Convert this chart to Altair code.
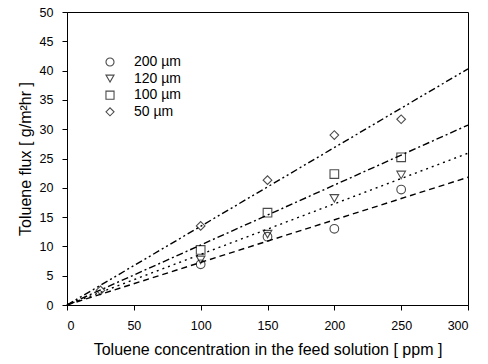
import altair as alt
import pandas as pd

series = ["200 µm", "120 µm", "100 µm", "50 µm"]
shapes = ["circle", "triangle-down", "square", "diamond"]
conc = [25, 100, 150, 200, 250]
flux = {
    "200 µm": [None, 6.95, 11.65, 13.0, 19.7],
    "120 µm": [None, 7.7, 12.1, 18.2, 22.2],
    "100 µm": [None, 9.4, 15.75, 22.35, 25.2],
    "50 µm": [2.5, 13.5, 21.3, 29.0, 31.7],
}
fit_x = [0, 300]
fit_end = [21.8, 25.9, 30.7, 40.3]
dashes = [[6, 4], [2, 4], [7, 3, 2, 3], [7, 3, 2, 3, 2, 3]]

pts = pd.DataFrame(
    [{"series": s, "conc": c, "flux": f} for s in series for c, f in zip(conc, flux[s]) if f is not None]
)

font = "Liberation Sans"
xs = alt.Scale(domain=[0, 300], nice=False, zero=True)
ys = alt.Scale(domain=[0, 50], nice=False)
xtitle = "Toluene concentration in the feed solution [ ppm ]"
ytitle = "Toluene flux  [ g/m²hr ]"
xax = alt.Axis(values=[0, 50, 100, 150, 200, 250, 300], titlePadding=10)
yax = alt.Axis(values=list(range(0, 51, 5)), titlePadding=6)

layers = []
for s, e, d in zip(series, fit_end, dashes):
    df = pd.DataFrame({"conc": fit_x, "flux": [e * x / 300 for x in fit_x]})
    layers.append(
        alt.Chart(df).mark_line(color="black", strokeWidth=1.4, strokeDash=d).encode(
            x=alt.X("conc:Q", scale=xs, axis=xax, title=xtitle),
            y=alt.Y("flux:Q", scale=ys, axis=yax, title=ytitle),
        )
    )

pt_layer = alt.Chart(pts).mark_point(filled=False, color="black", strokeWidth=1.1, size=75).encode(
    x=alt.X("conc:Q", scale=xs, axis=xax, title=xtitle),
    y=alt.Y("flux:Q", scale=ys, axis=yax, title=ytitle),
    shape=alt.Shape("series:N", scale=alt.Scale(domain=series, range=shapes),
                    legend=alt.Legend(orient="none", legendX=36, legendY=43)),
)
layers.append(pt_layer)

chart = alt.layer(*layers).properties(
    width=401, height=293,
    autosize=alt.AutoSizeParams(type="none"),
    padding={"left": 67, "top": 12, "right": 20, "bottom": 59},
    background="white",
).configure_view(stroke="black", strokeWidth=1).configure_axis(
    grid=False, tickSize=5, labelPadding=9, labelFontSize=12.5, titleFontSize=16,
    labelFont=font, titleFont=font, titleFontWeight="normal", labelOverlap=False,
    domainColor="black", tickColor="black", labelColor="black", titleColor="black",
).configure_legend(
    title=None, labelFont=font, labelFontSize=14, labelColor="black",
    symbolStrokeColor="black", symbolFillColor="white", symbolSize=65,
    symbolStrokeWidth=1.1, rowPadding=2.6, labelOffset=17,
)

chart.save("out.html", embed_options={"renderer": "svg", "actions": False})
